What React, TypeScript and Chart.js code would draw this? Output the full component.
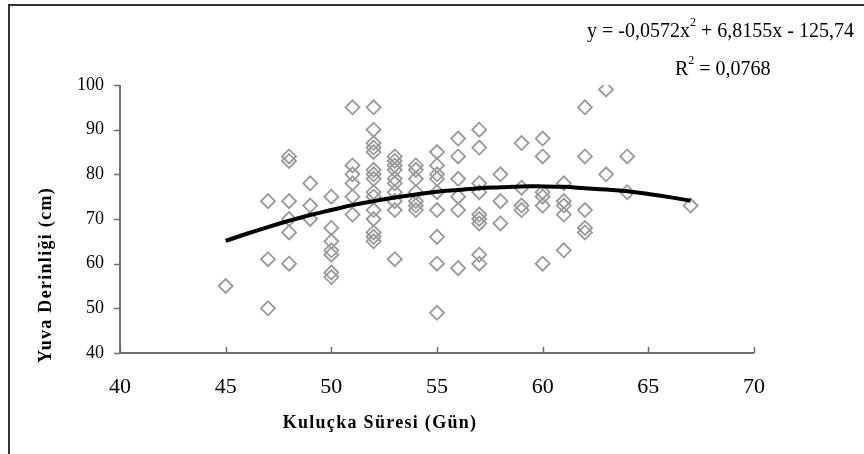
import React, { useEffect, useRef } from "react";
import { Chart, registerables } from "chart.js";

Chart.register(...registerables);

// Observed points: incubation period (days) vs nest depth (cm)
const incubationDays = [
  45,
  47, 47, 47,
  48, 48, 48, 48, 48, 48,
  49, 49, 49,
  50, 50, 50, 50, 50, 50, 50,
  51, 51, 51, 51, 51, 51,
  52, 52, 52, 52, 52, 52, 52, 52, 52, 52, 52, 52, 52, 52, 52,
  53, 53, 53, 53, 53, 53, 53, 53, 53, 53,
  54, 54, 54, 54, 54, 54, 54,
  55, 55, 55, 55, 55, 55, 55, 55, 55,
  56, 56, 56, 56, 56, 56,
  57, 57, 57, 57, 57, 57, 57, 57, 57,
  58, 58, 58,
  59, 59, 59, 59,
  60, 60, 60, 60, 60, 60,
  61, 61, 61, 61, 61,
  62, 62, 62, 62, 62,
  63, 63,
  64, 64,
  67,
];
const nestDepth = [
  55,
  74, 61, 50,
  84, 83, 74, 70, 67, 60,
  78, 73, 70,
  75, 68, 65, 63, 62, 58, 57,
  95, 82, 80, 78, 75, 71,
  95, 90, 87, 86, 85, 81, 80, 79, 76, 75, 72, 70, 67, 66, 65,
  84, 83, 82, 81, 79, 78, 76, 74, 72, 61,
  82, 81, 79, 76, 74, 73, 72,
  85, 82, 80, 79, 76, 72, 66, 60, 49,
  88, 84, 79, 75, 72, 59,
  90, 86, 78, 76, 71, 70, 69, 62, 60,
  80, 74, 69,
  87, 77, 73, 72,
  88, 84, 76, 75, 73, 60,
  78, 74, 73, 71, 63,
  95, 84, 72, 68, 67,
  99, 80,
  84, 76,
  73,
];

// Polynomial trend line
const trendX = [45, 46, 47, 48, 49, 50, 51, 52, 53, 54, 55, 56, 57, 58, 59, 60, 61, 62, 63, 64, 65, 66, 67];
const trendY = [65.1, 66.7, 68.2, 69.6, 70.9, 72.0, 73.1, 74.0, 74.8, 75.5, 76.1, 76.5, 76.9, 77.1, 77.3, 77.3, 77.2, 76.9, 76.6, 76.2, 75.6, 74.9, 74.1];

const xTicks = [40, 45, 50, 55, 60, 65, 70];
const yTicks = [40, 50, 60, 70, 80, 90, 100];

const equationMain = ["y = -0,0572x", " + 6,8155x - 125,74"];
const rSquaredParts = ["R", " = 0,0768"];
const xTitle = "Kuluçka Süresi (Gün)";
const yTitle = "Yuva Derinliği (cm)";

const SERIF = "'Liberation Serif', 'Times New Roman', serif";

const decorPlugin = {
  id: "decor",
  afterDraw(chart: any) {
    const ctx = chart.ctx;
    const xs = chart.scales.x;
    const ys = chart.scales.y;
    const area = chart.chartArea;
    ctx.save();

    // outer frame (left and top)
    ctx.strokeStyle = "#333333";
    ctx.lineWidth = 2;
    ctx.beginPath();
    ctx.moveTo(9, 460);
    ctx.lineTo(9, 5);
    ctx.lineTo(870, 5);
    ctx.stroke();

    // axes
    ctx.strokeStyle = "#6f6f6f";
    ctx.lineWidth = 2;
    ctx.beginPath();
    ctx.moveTo(area.left, area.top);
    ctx.lineTo(area.left, area.bottom);
    ctx.lineTo(area.right, area.bottom);
    ctx.stroke();
    ctx.lineWidth = 1.5;
    ctx.beginPath();
    for (const t of yTicks) {
      const py = Math.round(ys.getPixelForValue(t)) + 0.5;
      ctx.moveTo(area.left - 6, py);
      ctx.lineTo(area.left, py);
    }
    for (const t of xTicks) {
      const px = Math.round(xs.getPixelForValue(t)) + 0.5;
      ctx.moveTo(px, area.bottom - 6);
      ctx.lineTo(px, area.bottom);
    }
    ctx.stroke();

    ctx.fillStyle = "#000000";
    // equation
    ctx.textBaseline = "alphabetic";
    ctx.textAlign = "left";
    let x = 587;
    ctx.font = `20px ${SERIF}`;
    ctx.fillText(equationMain[0], x, 37);
    x += ctx.measureText(equationMain[0]).width;
    ctx.font = `12px ${SERIF}`;
    ctx.fillText("2", x, 26);
    x += ctx.measureText("2").width;
    ctx.font = `20px ${SERIF}`;
    ctx.fillText(equationMain[1], x, 37);

    x = 675;
    ctx.fillText(rSquaredParts[0], x, 75);
    x += ctx.measureText(rSquaredParts[0]).width;
    ctx.font = `12px ${SERIF}`;
    ctx.fillText("2", x, 64);
    x += ctx.measureText("2").width;
    ctx.font = `20px ${SERIF}`;
    ctx.fillText(rSquaredParts[1], x, 75);

    // axis titles
    ctx.font = `bold 18px ${SERIF}`;
    (ctx as any).letterSpacing = "1.3px";
    ctx.textAlign = "center";
    ctx.textBaseline = "middle";
    ctx.fillText(xTitle, 380, 423);
    ctx.translate(46, 275);
    ctx.rotate(-Math.PI / 2);
    ctx.fillText(yTitle, 0, 0);
    ctx.restore();
  },
};

export default function App() {
  const canvasRef = useRef<HTMLCanvasElement | null>(null);

  useEffect(() => {
    const canvas = canvasRef.current;
    if (!canvas) return;
    const points = incubationDays.map((d, i) => ({ x: d, y: nestDepth[i] }));
    const trend = trendX.map((d, i) => ({ x: d, y: trendY[i] }));

    const chart = new Chart(canvas, {
      type: "scatter",
      data: {
        datasets: [
          {
            type: "line",
            data: trend,
            borderColor: "#000000",
            borderWidth: 4,
            pointRadius: 0,
            tension: 0.4,
            fill: false,
            order: 0,
          } as any,
          {
            data: points,
            pointStyle: "rectRot",
            pointRadius: 7,
            pointBorderWidth: 1.8,
            pointBorderColor: "#999999",
            pointBackgroundColor: "rgba(0,0,0,0)",
            showLine: false,
            order: 1,
          } as any,
        ],
      },
      options: {
        responsive: false,
        animation: false,
        events: [],
        layout: { padding: { left: 0, top: 85, right: 110, bottom: 0 } },
        plugins: {
          legend: { display: false },
          tooltip: { enabled: false },
          title: { display: false },
        },
        scales: {
          x: {
            type: "linear",
            min: 40,
            max: 70,
            afterFit: (s: any) => {
              s.height = 101;
            },
            afterBuildTicks: (s: any) => {
              s.ticks = xTicks.map((v) => ({ value: v }));
            },
            grid: { display: false, drawTicks: false },
            border: { display: false },
            ticks: {
              padding: 21,
              color: "#000000",
              font: { family: SERIF, size: 22 },
              maxRotation: 0,
            },
          },
          y: {
            type: "linear",
            min: 40,
            max: 100,
            afterFit: (s: any) => {
              s.width = 120;
            },
            afterBuildTicks: (s: any) => {
              s.ticks = yTicks.map((v) => ({ value: v }));
            },
            grid: { display: false, drawTicks: false },
            border: { display: false },
            ticks: {
              padding: 16,
              color: "#000000",
              font: { family: SERIF, size: 18 },
            },
          },
        },
      },
      plugins: [decorPlugin],
    });
    return () => chart.destroy();
  }, []);

  return (
    <div style={{ position: "fixed", left: 0, top: 0, width: 864, height: 454, background: "#ffffff" }}>
      <canvas ref={canvasRef} width={864} height={454} style={{ display: "block" }} />
    </div>
  );
}
